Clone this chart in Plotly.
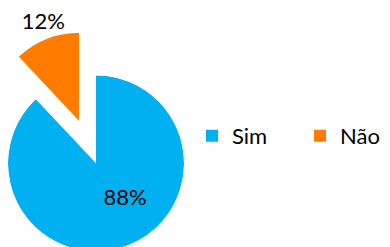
import math
import plotly.graph_objects as go

labels = ["Sim", "Não"]
values = [88, 12]
colors = ["#00B0F0", "#FF7C00"]

W, H = 390, 247
FONT = "Lato, 'Open Sans', sans-serif"

total = sum(values)
spans = [360 * v / total for v in values]
starts = [0, spans[0]]
mids = [s + w / 2 for s, w in zip(starts, spans)]
pct = [f"{round(100 * v / total)}%" for v in values]

# layout geometry (figure pixels)
R = 88.0                      # slice radius
CX, CY = 88.0, 155.3          # centre of the main slice
APEX_X, APEX_Y = 71.0, 113.0  # apex of the exploded slice
RMAX2 = 1.17                  # radial range of the exploded-slice subplot (room for its label)
sec_w = math.sin(math.radians(spans[1]))
R2 = R * RMAX2

dom1 = dict(x=[max(0, (CX - R) / W), (CX + R) / W], y=[max(0, 1 - (CY + R) / H), 1 - (CY - R) / H])
dom2 = dict(x=[max(0, (APEX_X - R2 * sec_w) / W), APEX_X / W], y=[1 - APEX_Y / H, 1 - (APEX_Y - R2) / H])

fig = go.Figure()
fig.add_trace(go.Barpolar(r=[1], theta=[mids[0]], width=[spans[0]], name=labels[0],
                          marker=dict(color=colors[0], line=dict(width=0)),
                          subplot="polar", legend="legend", hoverinfo="name"))
fig.add_trace(go.Barpolar(r=[1], theta=[mids[1]], width=[spans[1]], name=labels[1],
                          marker=dict(color=colors[1], line=dict(width=0)),
                          subplot="polar2", legend="legend2", hoverinfo="name"))
fig.add_trace(go.Scatterpolar(r=[0.53], theta=[141.5], mode="text", text=[pct[0]],
                              textfont=dict(size=22, color="#000000", family=FONT),
                              subplot="polar", showlegend=False, cliponaxis=False, hoverinfo="skip"))
fig.add_trace(go.Scatterpolar(r=[1.062], theta=[337.6], mode="text", text=[pct[1]],
                              textposition="top center",
                              textfont=dict(size=22, color="#000000", family=FONT),
                              subplot="polar2", showlegend=False, cliponaxis=False, hoverinfo="skip"))

def polar_layout(domain, rmax, **extra):
    return dict(domain=domain, bgcolor="rgba(0,0,0,0)",
                radialaxis=dict(visible=False, range=[0, rmax]),
                angularaxis=dict(visible=False, rotation=90, direction="clockwise"),
                **extra)

legend_common = dict(orientation="h", xanchor="left", y=0.482, yanchor="middle",
                     font=dict(size=22, family=FONT, color="#000000"),
                     bgcolor="rgba(0,0,0,0)")

fig.update_layout(
    width=W, height=H,
    margin=dict(l=0, r=0, t=0, b=0, autoexpand=False),
    paper_bgcolor="white", plot_bgcolor="white",
    polar=polar_layout(dom1, 1),
    polar2=polar_layout(dom2, RMAX2, sector=[90, 90 + spans[1]]),
    showlegend=True,
    legend=dict(x=0.4718, **legend_common),
    legend2=dict(x=0.7487, **legend_common),
    font=dict(family=FONT),
)
fig.write_html("out.html")
